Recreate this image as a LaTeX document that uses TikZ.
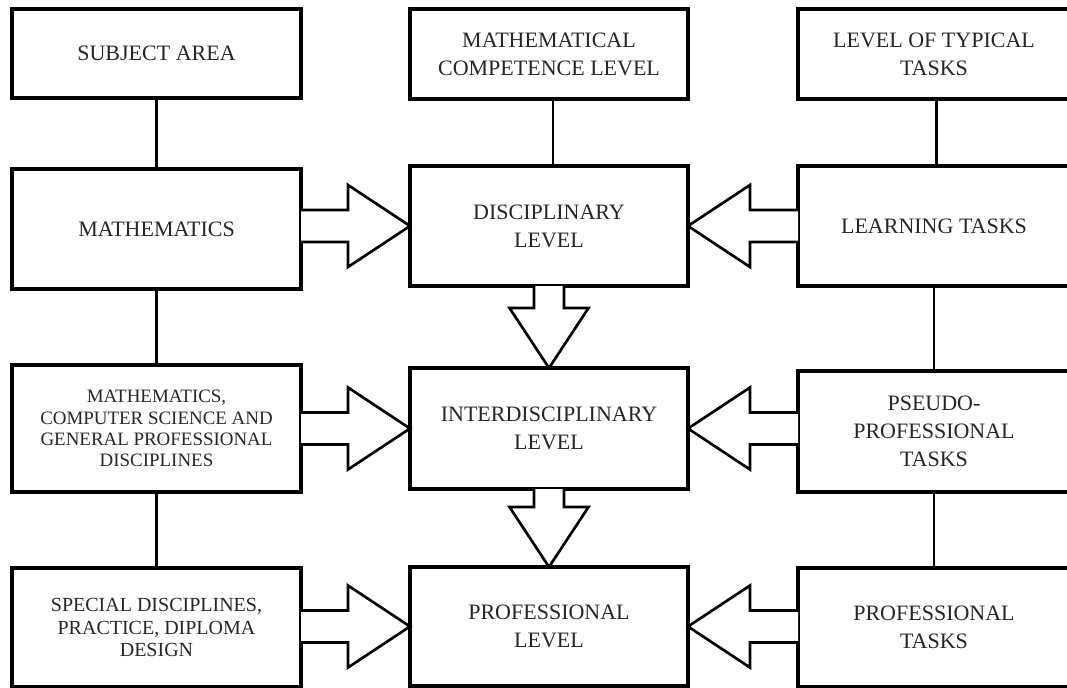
\documentclass[tikz,border=0pt]{standalone}
\usepackage{fontspec}
\setmainfont{Liberation Serif}
\usetikzlibrary{calc}
\tikzset{
  box/.style={draw=black, line width=2.6pt, inner sep=0pt, outer sep=0pt,
    align=center, text=black!85, font=\fontsize{16.5}{21}\selectfont},
  bx/.style 2 args={minimum width=#1*0.75pt, minimum height=#2*0.75pt},
  conn/.style={draw=black, line width=2pt},
  blk/.style={draw=black, line width=2pt, line join=miter, fill=white},
}
% horizontal block arrow: #1 start anchor, #2 tip anchor, #3 head-base offset
\newcommand\harrow[3]{%
  \draw[blk] ($(#1 |- #2)+(0,-16)$) -- ($(#2)+(#3,-16)$) -- ($(#2)+(#3,-41)$)
    -- (#2) -- ($(#2)+(#3,41)$) -- ($(#2)+(#3,16)$) -- ($(#1 |- #2)+(0,16)$);}
% vertical block arrow: #1 start anchor, #2 tip anchor
\newcommand\varrow[2]{%
  \draw[blk] ($(#1)+(-15,0)$) -- ($(#2)+(-15,-60)$) -- ($(#2)+(-39.5,-60)$)
    -- (#2) -- ($(#2)+(39.5,-60)$) -- ($(#2)+(15,-60)$) -- ($(#1)+(15,0)$);}
\begin{document}
\begin{tikzpicture}[x=0.75pt, y=-0.75pt]
\useasboundingbox (0,0) rectangle (1067,688);
\clip (0,0) rectangle (1067,688);
% left column
\node[box, bx={289}{89}]  (sa)  at (156.5,53.5)  {SUBJECT AREA};
\node[box, bx={289}{120}] (ma)  at (156.5,229)   {MATHEMATICS};
\node[box, bx={289}{127}, font=\fontsize{14.2}{16}\selectfont] (mcs) at (156.5,428.5)
  {MATHEMATICS,\\COMPUTER SCIENCE AND\\GENERAL PROFESSIONAL\\DISCIPLINES};
\node[box, bx={289}{119}, font=\fontsize{15}{17}\selectfont] (sd) at (156.5,627.5)
  {SPECIAL DISCIPLINES,\\PRACTICE, DIPLOMA\\DESIGN};
% middle column
\node[box, bx={278}{90}]  (mc)  at (549,54)     {MATHEMATICAL\\COMPETENCE LEVEL};
\node[box, bx={278}{120}] (dl)  at (549,226)    {DISCIPLINARY\\LEVEL};
\node[box, bx={278}{121}] (il)  at (549,428.5)  {INTERDISCIPLINARY\\LEVEL};
\node[box, bx={278}{119}] (pl)  at (549,626.5)  {PROFESSIONAL\\LEVEL};
% right column
\node[box, bx={272}{90}]  (lt)  at (934,54)     {LEVEL OF TYPICAL\\TASKS};
\node[box, bx={272}{120}] (lrn) at (934,226)    {LEARNING TASKS};
\node[box, bx={272}{121}] (ps)  at (934,431.5)  {PSEUDO-\\PROFESSIONAL\\TASKS};
\node[box, bx={272}{119}] (pt)  at (934,627.5)  {PROFESSIONAL\\TASKS};
% plain connectors
\draw[conn] (sa.south) -- (ma.north);
\draw[conn] (ma.south) -- (mcs.north);
\draw[conn] (mcs.south) -- (sd.north);
\draw[conn] ([xshift=3pt]mc.south) -- ([xshift=3pt]dl.north);
\draw[conn] ([xshift=2pt]lt.south) -- ([xshift=2pt]lrn.north);
\draw[conn] (lrn.south) -- (ps.north);
\draw[conn] (ps.south) -- (pt.north);
% block arrows
\harrow{ma.east}{dl.west}{-62}
\harrow{mcs.east}{il.west}{-62}
\harrow{sd.east}{pl.west}{-62}
\harrow{lrn.west}{dl.east}{62}
\harrow{ps.west}{il.east}{62}
\harrow{pt.west}{pl.east}{62}
\varrow{dl.south}{il.north}
\varrow{il.south}{pl.north}
\end{tikzpicture}
\end{document}
